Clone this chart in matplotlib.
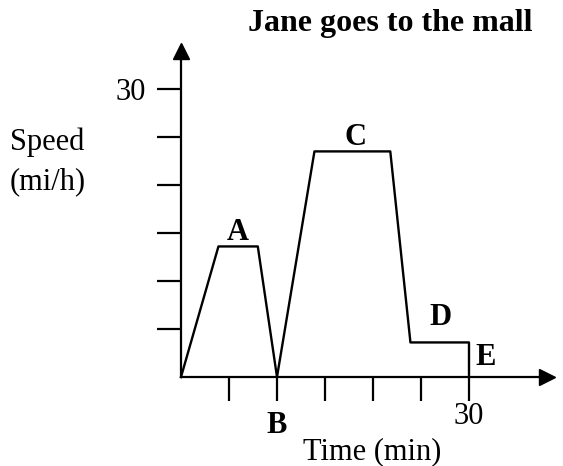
import matplotlib.pyplot as plt
import numpy as np

# Jane's trip: time in minutes, speed in mi/h
time_min = [0, 3.9, 8, 10, 13.9, 21.8, 23.9, 30, 30]
speed_mph = [0, 13.6, 13.6, 0, 23.5, 23.5, 3.6, 3.6, 0]

x_ticks = [5, 10, 15, 20, 25, 30]
y_ticks = [5, 10, 15, 20, 25, 30]
x_tick_labels = ['', '', '', '', '', '30']
y_tick_labels = ['', '', '', '', '', '30']

plt.rcParams['font.family'] = ['Liberation Serif', 'DejaVu Serif']

W, H = 563, 466
fig = plt.figure(figsize=(W / 100, H / 100), dpi=100)
ax = fig.add_axes([0, 0, 1, 1])

# 9.6 px per unit on both axes, origin at pixel (181, 377)
px = 9.6
ax.set_xlim(-181 / px, (W - 181) / px)
ax.set_ylim(-(H - 377) / px, 377 / px)
ax.patch.set_visible(False)

x_end = (553 - 181) / px
y_end = (377 - 45) / px

for side in ['top', 'right']:
    ax.spines[side].set_visible(False)
ax.spines['left'].set_position(('data', 0))
ax.spines['bottom'].set_position(('data', 0))
ax.spines['left'].set_bounds(0, y_end - 1)
ax.spines['bottom'].set_bounds(0, x_end - 1)
for side in ['left', 'bottom']:
    ax.spines[side].set_linewidth(1.6)

ax.set_xticks(x_ticks)
ax.set_xticklabels(x_tick_labels)
ax.set_yticks(y_ticks)
ax.set_yticklabels(y_tick_labels)
ax.tick_params(axis='both', direction='out', length=17, width=1.6, labelsize=22)
ax.tick_params(axis='x', pad=1)
ax.tick_params(axis='y', pad=8)

# arrow heads
ax.plot([x_end - 0.6], [0], marker='>', color='black', markersize=11, clip_on=False)
ax.plot([0], [y_end - 0.6], marker='^', color='black', markersize=11, clip_on=False)

ax.plot(time_min, speed_mph, color='black', linewidth=1.7, clip_on=False)

bold = dict(fontsize=22, fontweight='bold', ha='center', va='center')
ax.annotate('A', xy=((time_min[1] + time_min[2]) / 2, speed_mph[1]),
            xytext=(0, 10), textcoords='offset points', **bold)
ax.annotate('B', xy=(time_min[3], speed_mph[3]),
            xytext=(0, -35), textcoords='offset points', **bold)
ax.annotate('C', xy=((time_min[4] + time_min[5]) / 2, speed_mph[4]),
            xytext=(2, 10), textcoords='offset points', **bold)
ax.annotate('D', xy=(time_min[6], speed_mph[6]),
            xytext=(22, 18), textcoords='offset points', **bold)
ax.annotate('E', xy=(time_min[8], speed_mph[8]),
            xytext=(12, 14), textcoords='offset points', **bold)

fig.text(390 / W, 1 - 24 / H, 'Jane goes to the mall', fontsize=23,
         fontweight='bold', ha='center', va='center')
fig.text(10 / W, 1 - 142 / H, 'Speed', fontsize=22, ha='left', va='center')
fig.text(10 / W, 1 - 182 / H, '(mi/h)', fontsize=22, ha='left', va='center')
fig.text(372 / W, 1 - 452 / H, 'Time (min)', fontsize=22,
         ha='center', va='center')

fig.savefig('out.png', dpi=100)
